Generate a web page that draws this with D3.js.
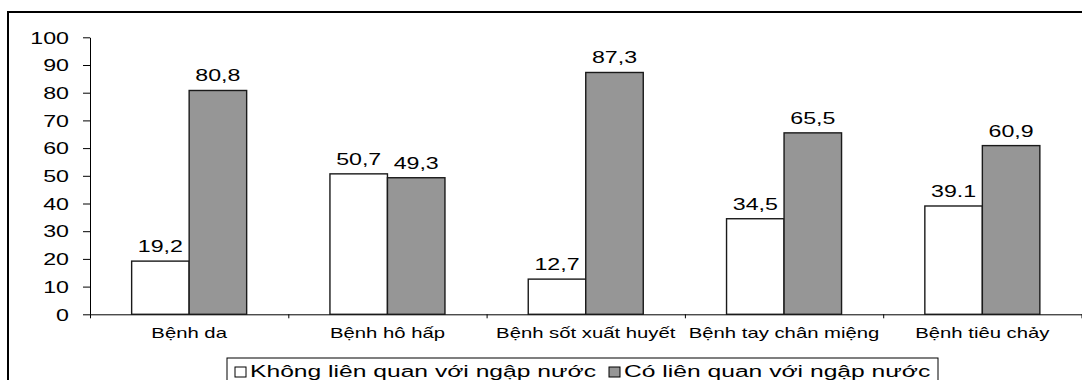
<!DOCTYPE html>
<html>
<head>
<meta charset="utf-8">
<script src="https://cdn.jsdelivr.net/npm/d3@7"></script>
<style>
  html, body { margin: 0; padding: 0; background: #fff; }
  svg { display: block; }
  text { font-family: "Liberation Sans", Arial, sans-serif; fill: #000; }
</style>
</head>
<body>
<svg id="chart" width="1082" height="380"></svg>
<script>
// chart data
const categories = ["Bệnh da", "Bệnh hô hấp", "Bệnh sốt xuất huyết", "Bệnh tay chân miệng", "Bệnh tiêu chảy"];
const seriesNames = ["Không liên quan với ngập nước", "Có liên quan với ngập nước"];
const notRelated = [19.2, 50.7, 12.7, 34.5, 39.1];
const related = [80.8, 49.3, 87.3, 65.5, 60.9];
const notRelatedLabels = ["19,2", "50,7", "12,7", "34,5", "39.1"];
const relatedLabels = ["80,8", "49,3", "87,3", "65,5", "60,9"];
const yTicks = [0, 10, 20, 30, 40, 50, 60, 70, 80, 90, 100];
const seriesColours = ["#ffffff", "#969696"];

// the old excel picture has its text stretched sideways
const sx = 1.45;

const svg = d3.select("#chart");
const margin = {top: 37.3, left: 90, bottom: 314.3, right: 1081.5};

const rows = categories.map((c, i) => ({
    key: c,
    values: [
        {series: 0, value: notRelated[i], label: notRelatedLabels[i]},
        {series: 1, value: related[i], label: relatedLabels[i]}
    ]
}));

const y = d3.scaleLinear()
    .domain([0, 100])
    .range([margin.bottom, margin.top]);

const x = d3.scaleBand()
    .domain(categories)
    .range([margin.left, margin.right])
    .paddingInner(0.42)
    .paddingOuter(0.21);

const xInner = d3.scaleBand()
    .domain([0, 1])
    .range([0, x.bandwidth()]);

// outer frame, runs off the picture on the right and bottom
svg.append("rect")
    .attr("x", 8).attr("y", 12)
    .attr("width", 1200).attr("height", 500)
    .attr("fill", "none")
    .attr("stroke", "#000")
    .attr("stroke-width", 2);

// y axis
const gY = svg.append("g")
    .attr("transform", `translate(${margin.left},0)`)
    .call(d3.axisLeft(y).tickValues(yTicks).tickSize(7).tickSizeOuter(0));
gY.select(".domain").attr("stroke", "#000");
gY.selectAll(".tick line").attr("stroke", "#000");
gY.selectAll(".tick text")
    .attr("font-size", 16)
    .attr("font-family", null)
    .attr("x", -21 / sx)
    .attr("dy", "0.36em")
    .attr("transform", `scale(${sx},1)`);

// x axis line with ticks at category boundaries
const xEdges = d3.scaleLinear()
    .domain([0, categories.length])
    .range([margin.left, margin.right]);
const gX = svg.append("g")
    .attr("transform", `translate(0,${margin.bottom})`)
    .call(d3.axisBottom(xEdges).tickValues(d3.range(categories.length + 1)).tickFormat("").tickSize(4).tickSizeOuter(0));
gX.select(".domain").attr("stroke", "#000");
gX.selectAll(".tick line").attr("stroke", "#000");

// bars
const groups = svg.selectAll(".cat")
    .data(rows)
    .enter()
    .append("g")
    .attr("class", "cat")
    .attr("transform", d => `translate(${x(d.key)},0)`);

groups.selectAll("rect")
    .data(d => d.values)
    .enter()
    .append("rect")
    .attr("x", v => xInner(v.series))
    .attr("y", v => y(v.value))
    .attr("width", xInner.bandwidth())
    .attr("height", v => y(0) - y(v.value))
    .attr("fill", v => seriesColours[v.series])
    .attr("stroke", "#1a1a1a")
    .attr("stroke-width", 1.4);

// value labels
groups.selectAll(".val")
    .data(d => d.values)
    .enter()
    .append("text")
    .attr("class", "val")
    .attr("font-size", 16)
    .attr("text-anchor", "middle")
    .attr("transform", v => `translate(${xInner(v.series) + xInner.bandwidth() / 2},${y(v.value) - 9}) scale(${sx},1)`)
    .text(v => v.label);

// category labels
svg.selectAll(".cat-label")
    .data(categories)
    .enter()
    .append("text")
    .attr("class", "cat-label")
    .attr("font-size", 14)
    .attr("text-anchor", "middle")
    .attr("transform", c => `translate(${x(c) + x.bandwidth() / 2},338) scale(${sx},1)`)
    .text(c => c);

// legend
const legend = svg.append("g");
legend.append("rect")
    .attr("x", 227).attr("y", 358)
    .attr("width", 711).attr("height", 60)
    .attr("fill", "#fff")
    .attr("stroke", "#000")
    .attr("stroke-width", 1);

const legendX = [235, 609];
const legendItems = legend.selectAll(".item")
    .data(seriesNames)
    .enter()
    .append("g")
    .attr("class", "item")
    .attr("transform", (d, i) => `translate(${legendX[i]},0)`);

legendItems.append("rect")
    .attr("x", 0).attr("y", 367)
    .attr("width", 11).attr("height", 10)
    .attr("fill", (d, i) => seriesColours[i])
    .attr("stroke", "#000")
    .attr("stroke-width", 1);

legendItems.append("text")
    .attr("font-size", 17)
    .attr("transform", `translate(15,377) scale(${sx},1)`)
    .text(d => d);
</script>
</body>
</html>
